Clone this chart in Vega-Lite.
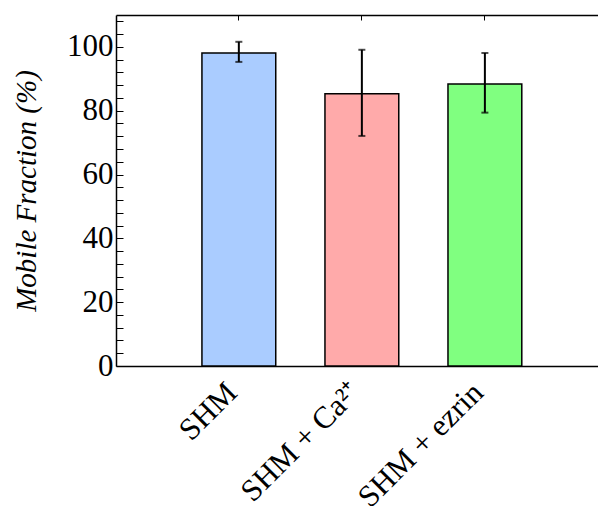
{
  "$schema": "https://vega.github.io/schema/vega-lite/v6.json",
  "width": 482,
  "height": 351,
  "autosize": {"type": "none"},
  "padding": {"left": 116, "top": 15, "right": 0, "bottom": 140},
  "config": {
    "view": {"stroke": null},
    "font": "Liberation Serif",
    "axis": {"domainColor": "black", "tickColor": "black", "labelColor": "black", "titleColor": "black", "grid": false, "domainWidth": 1.5, "tickWidth": 1}
  },
  "data": {
    "values": [
      {"cond": "SHM", "mean": 98.1, "lo": 95.3, "hi": 101.6},
      {"cond": "SHM + Ca²⁺", "mean": 85.3, "lo": 72.1, "hi": 99.1},
      {"cond": "SHM + ezrin", "mean": 88.4, "lo": 79.4, "hi": 98.1}
    ]
  },
  "layer": [
    {
      "mark": {"type": "bar", "stroke": "black", "strokeWidth": 1.5},
      "encoding": {
        "x": {
          "field": "cond", "type": "nominal", "sort": null,
          "scale": {"paddingInner": 0.4, "paddingOuter": 0.659, "align": 0.53},
          "axis": {"orient": "bottom", "title": null, "labelAngle": -45, "labelAlign": "right", "labelBaseline": "top", "labelFontSize": 31, "ticks": false, "labelPadding": 11, "labelOffset": -17}
        },
        "y": {
          "field": "mean", "type": "quantitative",
          "scale": {"domain": [0, 110], "nice": false, "zero": true},
          "axis": {
            "title": "Mobile Fraction (%)", "titleFontStyle": "italic", "titleFontWeight": "normal", "titleFontSize": 29, "titlePadding": 25,
            "values": [0, 4, 8, 12, 16, 20, 24, 28, 32, 36, 40, 44, 48, 52, 56, 60, 64, 68, 72, 76, 80, 84, 88, 92, 96, 100, 104, 108],
            "tickCount": 40,
            "labelExpr": "datum.value % 20 === 0 ? datum.label : ''",
            "labelOverlap": false,
            "labelFontSize": 31,
            "labelPadding": 10,
            "tickSize": -7,
            "encode": {"ticks": {"update": {"x2": {"signal": "datum.value % 20 === 0 ? 7 : 4"}}}}
          }
        },
        "color": {
          "field": "cond", "type": "nominal",
          "scale": {"domain": ["SHM", "SHM + Ca²⁺", "SHM + ezrin"], "range": ["#aaccff", "#ffaaaa", "#80ff80"]},
          "legend": null
        }
      }
    },
    {
      "mark": {"type": "tick", "color": "black", "thickness": 2, "size": 7},
      "encoding": {
        "x": {"field": "cond", "type": "nominal", "sort": null,
          "axis": {"orient": "top", "labels": false, "title": null, "tickSize": -5, "domain": true, "domainWidth": 1.5}},
        "y": {"field": "hi", "type": "quantitative"}
      }
    },
    {
      "mark": {"type": "rule", "strokeWidth": 2, "color": "black"},
      "encoding": {
        "x": {"field": "cond", "type": "nominal", "sort": null, "axis": null},
        "y": {"field": "lo", "type": "quantitative"},
        "y2": {"field": "hi"}
      }
    },
    {
      "mark": {"type": "tick", "color": "black", "thickness": 2, "size": 7},
      "encoding": {
        "x": {"field": "cond", "type": "nominal", "sort": null, "axis": null},
        "y": {"field": "lo", "type": "quantitative"}
      }
    }
  ],
  "resolve": {"axis": {"x": "independent"}}
}
